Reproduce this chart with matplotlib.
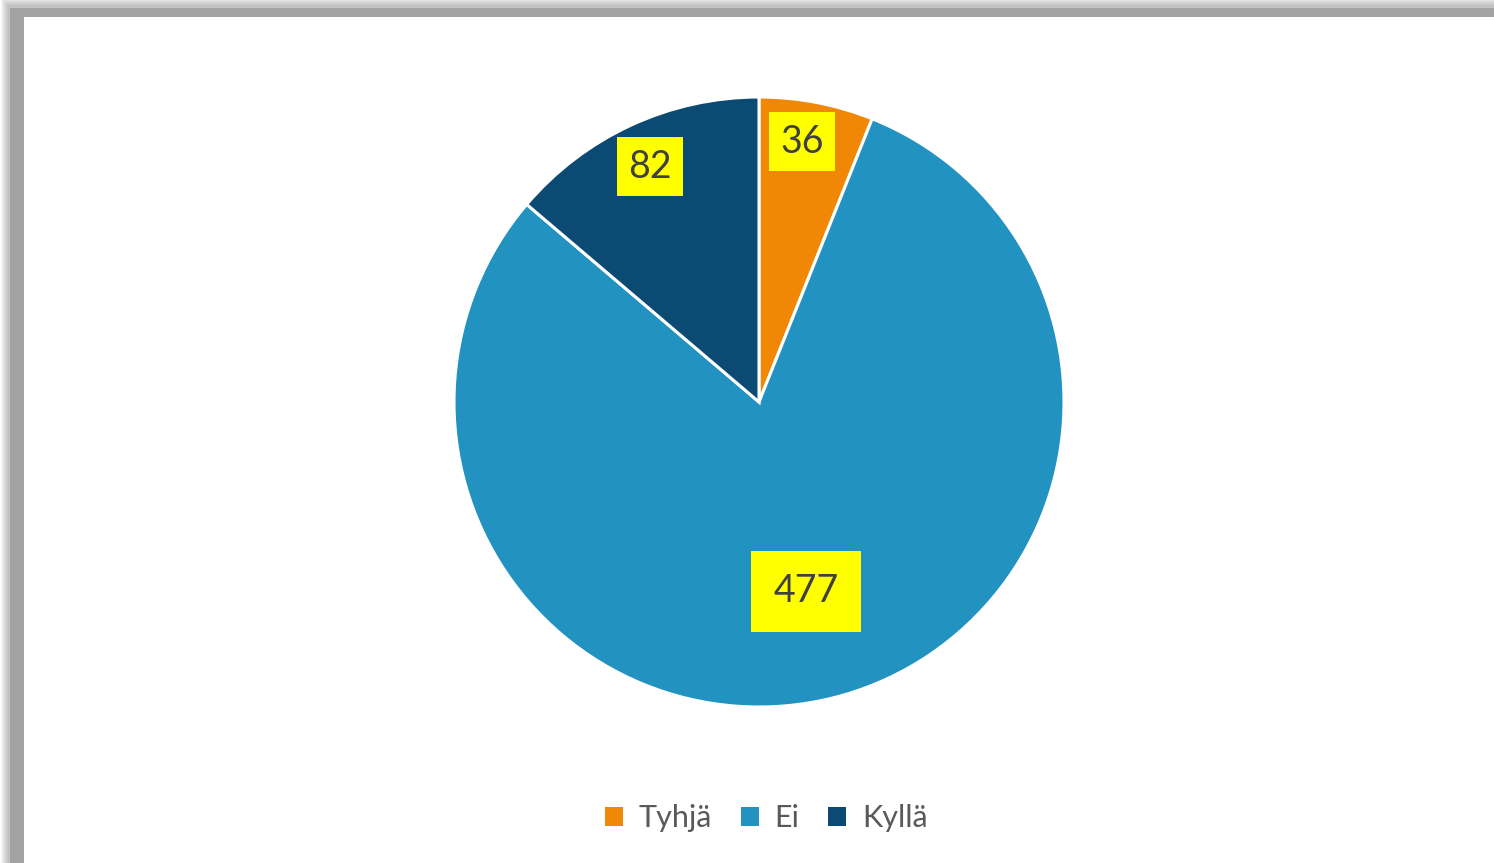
import numpy as np
import matplotlib
matplotlib.use('Agg')
import matplotlib.pyplot as plt
from matplotlib.patches import Rectangle, Patch

# data
kategoriat = ['Tyhjä', 'Ei', 'Kyllä']
arvot = [36, 477, 82]
varit = ['#F08705', '#2292C1', '#0B4A72']

W, H = 1494, 863
fig = plt.figure(figsize=(W / 100, H / 100), dpi=100)
fig.patch.set_facecolor('white')

# varjo reunoilla (ylä ja vasen)
for i in range(8):
    fig.patches.append(Rectangle(((8 - i) / W, 0), 1, (H - 5 + i) / H,
                                 transform=fig.transFigure, facecolor='#888888',
                                 alpha=0.08, edgecolor='none', zorder=0))
fig.patches.append(Rectangle((10 / W, 0), 1, (H - 8) / H, transform=fig.transFigure,
                             facecolor='#A2A2A2', edgecolor='none', zorder=0))
fig.patches.append(Rectangle((24 / W, 0), 1, (H - 17) / H, transform=fig.transFigure,
                             facecolor='white', edgecolor='none', zorder=1))

cx, cy, r = 759, 402, 305
ax = fig.add_axes([(cx - r) / W, (H - cy - r) / H, 2 * r / W, 2 * r / H])
ax.set_zorder(2)
wedges, _ = ax.pie(arvot, colors=varit, startangle=90, counterclock=False,
                   wedgeprops=dict(edgecolor='white', linewidth=2.2))
ax.set_xlim(-1, 1)
ax.set_ylim(-1, 1)
ax.set_aspect('auto')
ax.axis('off')

etaisyys = [0.865, 0.64, 0.85]
siirto = [1.5, 0, 0]
padit = [0.3, 0.6, 0.3]
for w, v, d, s, p in zip(wedges, arvot, etaisyys, siirto, padit):
    kulma = np.deg2rad((w.theta1 + w.theta2) / 2 + s)
    ax.text(d * np.cos(kulma), d * np.sin(kulma), str(v), ha='center', va='center',
            fontsize=27, color='#404040', family='Lato',
            bbox=dict(boxstyle=f'square,pad={p}', facecolor='#FFFF00', edgecolor='none'))

kahvat = [Patch(facecolor=c, edgecolor='none') for c in varit]
leg = fig.legend(kahvat, kategoriat, loc='center', bbox_to_anchor=(766 / W, 1 - 818 / H),
                 ncol=3, frameon=False, handlelength=0.6, handleheight=0.6,
                 handletextpad=0.5, columnspacing=0.95, prop={'family': 'Lato', 'size': 22})
for t in leg.get_texts():
    t.set_color('#595959')

fig.savefig('out.png', dpi=100, facecolor=fig.get_facecolor())
